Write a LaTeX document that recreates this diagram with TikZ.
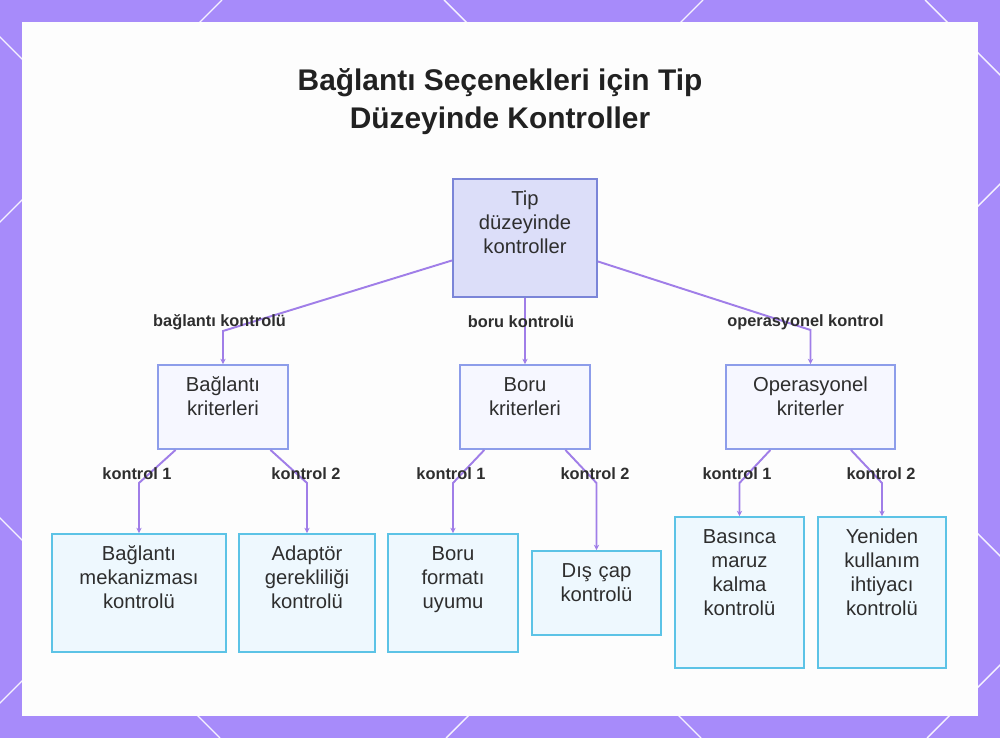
\documentclass[tikz,border=0pt]{standalone}
\usepackage{fontspec}
\setmainfont{Liberation Sans}
\usepackage{tikz}
\usetikzlibrary{arrows.meta,positioning}
\usepackage{xcolor}
\definecolor{bgPurple}{HTML}{A78BFA}
\definecolor{panelWhite}{HTML}{FDFDFD}
\definecolor{linkPurple}{HTML}{A07EE8}
\definecolor{rootFill}{HTML}{DCDEF9}
\definecolor{rootDraw}{HTML}{7B85D8}
\definecolor{midFill}{HTML}{F6F7FF}
\definecolor{midDraw}{HTML}{8D9DEA}
\definecolor{leafFill}{HTML}{EEF8FE}
\definecolor{leafDraw}{HTML}{5CC3E6}
\definecolor{txtDark}{HTML}{2E2E2E}

\begin{document}
\begin{tikzpicture}[
            >=Stealth,
            every node/.style={text=txtDark},
            box/.style={
                draw,
                rectangle,
                line width=1.1pt,
                inner sep=0pt,
                align=center,
                text height=0.53cm,
                font=\fontsize{11.5}{13.6}\selectfont
            },
            rootbox/.style={box, fill=rootFill, draw=rootDraw},
            midbox/.style={box, fill=midFill, draw=midDraw},
            leafbox/.style={box, fill=leafFill, draw=leafDraw},
            lbl/.style={font=\fontsize{9.3}{11}\selectfont\bfseries, inner sep=0pt},
            link/.style={-{Stealth[length=3pt, width=3pt]}, line width=1.1pt, draw=linkPurple},
            lattice/.style={draw=white, line width=0.8pt, opacity=0.9}
        ]
        \useasboundingbox (0,0) rectangle (20,-14.76);

        %---------------- Frame ----------------%
        \fill[bgPurple] (0,0) rectangle (20,-14.76);
        \begin{scope}
            \clip (0,0) rectangle (20,-14.76);
            \foreach \c in {222,703,1184,1665}
                \draw[lattice] ({\c/50},0) -- ({(\c-738)/50},-14.76);
            \foreach \d in {-518,-37,444,925}
                \draw[lattice] ({\d/50},0) -- ({(\d+738)/50},-14.76);
        \end{scope}
        \fill[panelWhite] (0.44,-0.44) rectangle (19.56,-14.32);

        %---------------- Title ----------------%
        \node[font=\fontsize{17}{22}\selectfont\bfseries, align=center, text=black!87] (title) at (10,-2.03)
              {Bağlantı Seçenekleri için Tip\\Düzeyinde Kontroller};

        %---------------- Top ----------------%
        \node[rootbox, text width=2.88cm, text depth=1.83cm] (root) at (10.5,-4.76) {Tip\\düzeyinde\\kontroller};

        %---------------- Criteria ----------------%
        \node[midbox, text width=2.6cm, text depth=1.15cm] (crit1) at (4.46,-8.14) {Bağlantı\\kriterleri};
        \node[midbox, text width=2.6cm, text depth=1.15cm] (crit2) at (10.5,-8.14) {Boru\\kriterleri};
        \node[midbox, text width=3.38cm, text depth=1.15cm] (crit3) at (16.21,-8.14) {Operasyonel\\kriterler};

        %---------------- Checks ----------------%
        \node[leafbox, text width=3.48cm, text depth=1.83cm] (chk11) at (2.78,-11.86) {Bağlantı\\mekanizması\\kontrolü};
        \node[leafbox, text width=2.72cm, text depth=1.83cm] (chk12) at (6.14,-11.86) {Adaptör\\gerekliliği\\kontrolü};
        \node[leafbox, text width=2.6cm, text depth=1.83cm] (chk21) at (9.06,-11.86) {Boru\\formatı\\uyumu};
        \node[leafbox, text width=2.58cm, text depth=1.15cm] (chk22) at (11.93,-11.86) {Dış çap\\kontrolü};
        \node[leafbox, text width=2.58cm, text depth=2.49cm] (chk31) at (14.79,-11.85) {Basınca\\maruz\\kalma\\kontrolü};
        \node[leafbox, text width=2.56cm, text depth=2.49cm] (chk32) at (17.64,-11.85) {Yeniden\\kullanım\\ihtiyacı\\kontrolü};

        %================ Bends =================%
        \coordinate (bend1) at (crit1 |- 0,-6.62);
        \coordinate (bend3) at (crit3 |- 0,-6.6);
        \coordinate (bend11) at (chk11 |- 0,-9.66);
        \coordinate (bend12) at (chk12 |- 0,-9.66);
        \coordinate (bend21) at (chk21 |- 0,-9.66);
        \coordinate (bend22) at (chk22 |- 0,-9.66);
        \coordinate (bend31) at (chk31 |- 0,-9.66);
        \coordinate (bend32) at (chk32 |- 0,-9.66);

        %================ Top level links =================%
        \draw[link] (root) -- (bend1) -- (crit1);
        \draw[link] (root) -- (crit2);
        \draw[link] (root) -- (bend3) -- (crit3);

        %================ Check links =================%
        \draw[link] (crit1) -- (bend11) -- (chk11);
        \draw[link] (crit1) -- (bend12) -- (chk12);
        \draw[link] (crit2) -- (bend21) -- (chk21);
        \draw[link] (crit2) -- (bend22) -- (chk22);
        \draw[link] (crit3) -- (bend31) -- (chk31);
        \draw[link] (crit3) -- (bend32) -- (chk32);

        %================ Link labels =================%
        \node[lbl] (lab1) at (4.39,-6.44) {bağlantı kontrolü};
        \node[lbl] (lab2) at (10.42,-6.44) {boru kontrolü};
        \node[lbl] (lab3) at (16.11,-6.44) {operasyonel kontrol};

        \node[lbl] (lab11) at (2.74,-9.48) {kontrol 1};
        \node[lbl] (lab12) at (6.12,-9.48) {kontrol 2};
        \node[lbl] (lab21) at (9.02,-9.48) {kontrol 1};
        \node[lbl] (lab22) at (11.9,-9.48) {kontrol 2};
        \node[lbl] (lab31) at (14.74,-9.48) {kontrol 1};
        \node[lbl] (lab32) at (17.62,-9.48) {kontrol 2};

\end{tikzpicture}
\end{document}
